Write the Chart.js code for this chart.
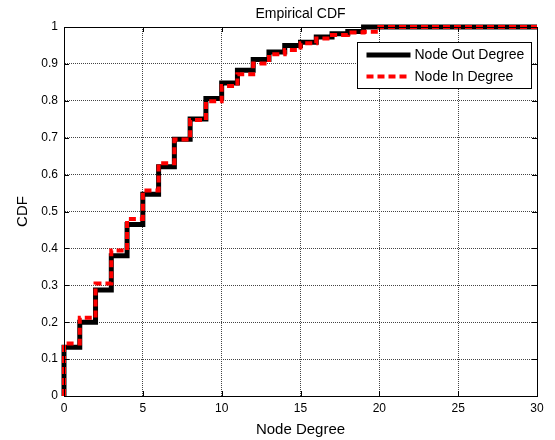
<!DOCTYPE html>
<html>
<head>
<meta charset="utf-8">
<script src="https://cdn.jsdelivr.net/npm/chart.js@4/dist/chart.umd.min.js"></script>
<style>
  html, body { margin: 0; padding: 0; background: #fff; }
  #wrap { width: 555px; height: 440px; }
</style>
</head>
<body>
<div id="wrap"><canvas id="cdf" width="555" height="440"></canvas></div>
<script>
// node degree values where the empirical CDF steps up
const outDegrees = [0, 1, 2, 3, 4, 5, 6, 7, 8, 9, 10, 11, 12, 13, 14, 15, 16, 17, 18, 19];
const outCdf = [0.132, 0.200, 0.287, 0.380, 0.465, 0.547, 0.621, 0.696, 0.751, 0.806,
  0.848, 0.883, 0.912, 0.932, 0.950, 0.959, 0.973, 0.982, 0.988, 1.0];

const inDegrees = [0, 1, 2, 3, 4, 5, 6, 7, 8, 9, 10, 11, 12, 13, 14, 15, 16, 17, 18, 19, 20];
const inCdf = [0.142, 0.212, 0.305, 0.394, 0.480, 0.557, 0.631, 0.695, 0.748, 0.799,
  0.840, 0.872, 0.901, 0.926, 0.938, 0.956, 0.969, 0.978, 0.985, 0.987, 1.0];

const xTickLabels = ['0', '5', '10', '15', '20', '25', '30'];
const yTickLabels = ['0', '0.1', '0.2', '0.3', '0.4', '0.5', '0.6', '0.7', '0.8', '0.9', '1'];
const degreeMax = 30;

const FONT = 'Arial, "Liberation Sans", sans-serif';

// CDF starts at 0 and holds its last value to the end of the axis
function stepPoints(degrees, cdf) {
  const pts = [{ x: degrees[0], y: 0 }];
  degrees.forEach((d, i) => pts.push({ x: d, y: cdf[i] }));
  pts.push({ x: degreeMax, y: cdf[cdf.length - 1] });
  return pts;
}

// MATLAB-like frame, inward tick marks, title and legend box
const matlabBox = {
  id: 'matlabBox',
  afterDatasetsDraw(chart) {
    const { ctx, chartArea: a, scales } = chart;
    ctx.save();
    ctx.strokeStyle = '#000';
    ctx.lineWidth = 1;
    ctx.beginPath();
    scales.x.ticks.forEach(t => {
      const px = Math.round(scales.x.getPixelForValue(t.value)) + 0.5;
      ctx.moveTo(px, a.bottom); ctx.lineTo(px, a.bottom - 5);
      ctx.moveTo(px, a.top); ctx.lineTo(px, a.top + 5);
    });
    scales.y.ticks.forEach(t => {
      const py = Math.round(scales.y.getPixelForValue(t.value)) + 0.5;
      ctx.moveTo(a.left, py); ctx.lineTo(a.left + 5, py);
      ctx.moveTo(a.right, py); ctx.lineTo(a.right - 5, py);
    });
    ctx.stroke();
    ctx.strokeRect(Math.round(a.left) + 0.5, Math.round(a.top) + 0.5,
      Math.round(a.right - a.left), Math.round(a.bottom - a.top));

    // title
    ctx.fillStyle = '#000';
    ctx.font = '14px ' + FONT;
    ctx.textAlign = 'center';
    ctx.textBaseline = 'alphabetic';
    ctx.fillText('Empirical CDF', (a.left + a.right) / 2, 17.5);

    // legend
    const w = 174, h = 46;
    const lx = Math.round(a.right - 6 - w) + 0.5;
    const ly = Math.round(a.top + 15) + 0.5;
    ctx.fillStyle = '#fff';
    ctx.fillRect(lx, ly, w, h);
    ctx.strokeStyle = '#000';
    ctx.lineWidth = 1;
    ctx.strokeRect(lx, ly, w, h);
    const rows = [chart.data.datasets[1], chart.data.datasets[0]];
    rows.forEach((ds, i) => {
      const yy = ly + 12.5 + i * 21.5;
      ctx.beginPath();
      ctx.strokeStyle = ds.borderColor;
      ctx.lineWidth = ds.borderWidth;
      ctx.setLineDash(ds.borderDash || []);
      ctx.moveTo(lx + 9, yy);
      ctx.lineTo(lx + 53, yy);
      ctx.stroke();
      ctx.setLineDash([]);
      ctx.fillStyle = '#000';
      ctx.font = '14px ' + FONT;
      ctx.textAlign = 'left';
      ctx.textBaseline = 'middle';
      ctx.fillText(ds.label, lx + 57, yy + 0.5);
    });
    ctx.restore();
  }
};

const elem = document.getElementById('cdf');
const config = {
  type: 'line',
  data: {
    datasets: [{
      label: 'Node In Degree',
      data: stepPoints(inDegrees, inCdf),
      borderColor: '#ff0000',
      borderWidth: 4,
      borderDash: [7, 4],
      stepped: 'before',
      pointRadius: 0,
      fill: false,
      order: 0,
      clip: 6,
    }, {
      label: 'Node Out Degree',
      data: stepPoints(outDegrees, outCdf),
      borderColor: '#000000',
      borderWidth: 5,
      stepped: 'before',
      pointRadius: 0,
      fill: false,
      order: 1,
      clip: 6,
    }]
  },
  options: {
    responsive: false,
    animation: false,
    events: [],
    layout: { padding: { top: 27, right: 18, left: 0, bottom: 0 } },
    plugins: {
      legend: { display: false },
      title: { display: false },
      tooltip: { enabled: false },
    },
    scales: {
      x: {
        type: 'linear',
        min: 0,
        max: degreeMax,
        afterFit(scale) { scale.height = 44; },
        ticks: {
          stepSize: 5,
          padding: 5,
          color: '#000',
          font: { family: FONT, size: 12 },
          maxRotation: 0,
          callback: (v, i) => xTickLabels[i],
        },
        grid: { color: '#444', drawTicks: false, lineWidth: 1 },
        border: { display: true, color: '#000', dash: [1, 1] },
        title: {
          display: true,
          text: 'Node Degree',
          color: '#000',
          font: { family: FONT, size: 15 },
          padding: { top: 0, bottom: 1.5 },
        },
      },
      y: {
        min: 0,
        max: 1,
        afterFit(scale) { scale.width = 64; },
        ticks: {
          stepSize: 0.1,
          padding: 6,
          color: '#000',
          font: { family: FONT, size: 12 },
          callback: (v, i) => yTickLabels[i],
        },
        grid: { color: '#444', drawTicks: false, lineWidth: 1 },
        border: { display: true, color: '#000', dash: [1, 1] },
        title: {
          display: true,
          text: 'CDF',
          color: '#000',
          font: { family: FONT, size: 15 },
          padding: { top: 13.75, bottom: 0 },
        },
      },
    },
  },
  plugins: [matlabBox],
};
const chart = new Chart(elem, config);
</script>
</body>
</html>
